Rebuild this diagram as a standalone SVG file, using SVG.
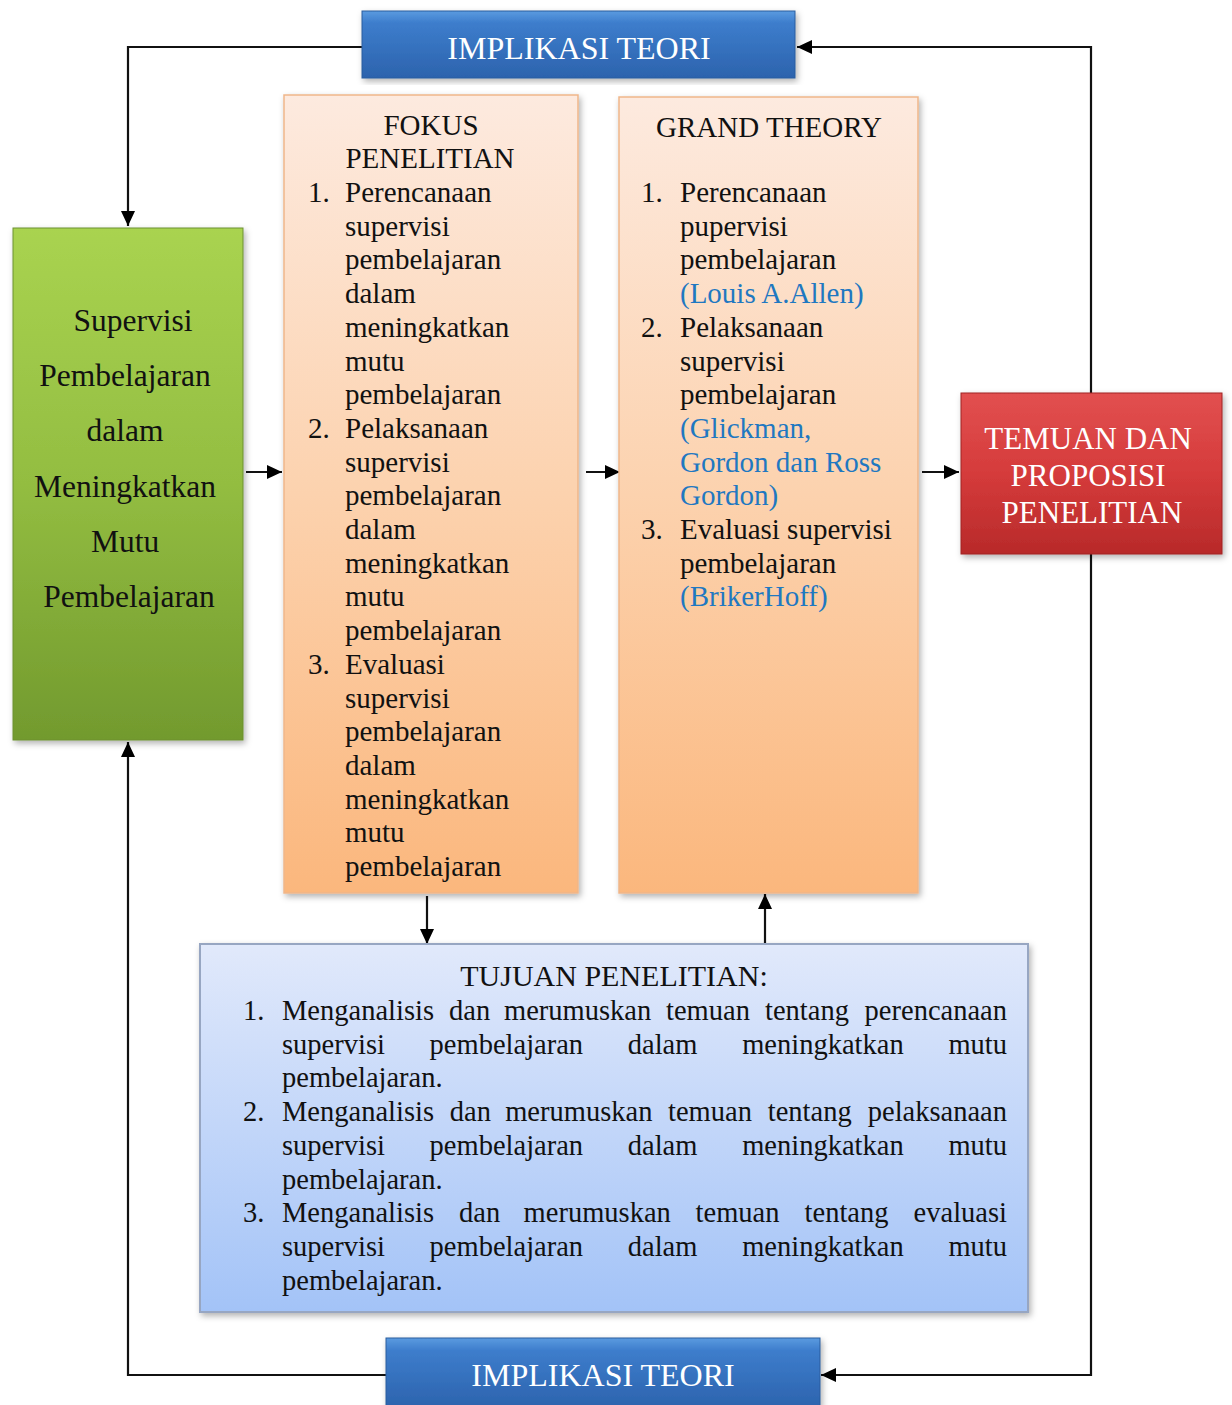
<svg xmlns="http://www.w3.org/2000/svg" width="1232" height="1405" viewBox="0 0 1232 1405">
<defs>
<style>
text{font-family:"Liberation Serif","Times New Roman",serif;fill:#111}
.b{font-size:29px}
.t{font-size:28.5px}
.w{fill:#fff;font-size:32px}
.c{fill:#1f78c1}
.ln{fill:none;stroke:#111;stroke-width:2.2}
</style>
<linearGradient id="gGreen" x1="0" y1="0" x2="0" y2="1">
<stop offset="0" stop-color="#a9d350"/>
<stop offset="0.5" stop-color="#93bd41"/>
<stop offset="1" stop-color="#729a2e"/>
</linearGradient>
<linearGradient id="gOrange" x1="0" y1="0" x2="0" y2="1">
<stop offset="0" stop-color="#fdeadf"/>
<stop offset="0.5" stop-color="#fcd2ae"/>
<stop offset="1" stop-color="#fbb77d"/>
</linearGradient>
<linearGradient id="gLight" x1="0" y1="0" x2="0" y2="1">
<stop offset="0" stop-color="#e1e9fb"/>
<stop offset="1" stop-color="#a3c3f7"/>
</linearGradient>
<linearGradient id="gBlue" x1="0" y1="0" x2="0" y2="1">
<stop offset="0" stop-color="#5b9be0"/>
<stop offset="0.18" stop-color="#3d7dcc"/>
<stop offset="1" stop-color="#2c63ad"/>
</linearGradient>
<linearGradient id="gRed" x1="0" y1="0" x2="0" y2="1">
<stop offset="0" stop-color="#e25050"/>
<stop offset="0.5" stop-color="#d53b3b"/>
<stop offset="1" stop-color="#b82a2a"/>
</linearGradient>
<filter id="sh" x="-10%" y="-10%" width="120%" height="120%">
<feDropShadow dx="2" dy="3" stdDeviation="3" flood-color="#000" flood-opacity="0.3"/>
</filter>
<marker id="ar" markerUnits="userSpaceOnUse" markerWidth="15" markerHeight="14" refX="15" refY="7" orient="auto" viewBox="0 0 15 14">
<path d="M0,0 L15,7 L0,14 z" fill="#000"/>
</marker>
</defs>
<rect width="1232" height="1405" fill="#fff"/>

<g id="connectors">
<path class="ln" d="M362,47 H128 V226" marker-end="url(#ar)"/>
<path class="ln" d="M1091,470 V47 H797" marker-end="url(#ar)"/>
<path class="ln" d="M1091,470 V1375 H821" marker-end="url(#ar)"/>
<path class="ln" d="M386,1375 H128 V742" marker-end="url(#ar)"/>
<path class="ln" d="M246,472 H282" marker-end="url(#ar)"/>
<path class="ln" d="M586,472 H620" marker-end="url(#ar)"/>
<path class="ln" d="M922,472 H959" marker-end="url(#ar)"/>
<path class="ln" d="M427,896 V944" marker-end="url(#ar)"/>
<path class="ln" d="M765,944 V894" marker-end="url(#ar)"/>
</g>

<g id="implikasi-top">
<rect x="362" y="11" width="433" height="67" fill="url(#gBlue)" stroke="#2a5c9e" stroke-width="1" filter="url(#sh)"/>
<text class="w" x="579" y="59" text-anchor="middle">IMPLIKASI TEORI</text>
</g>

<g id="supervisi">
<rect x="13" y="228" width="230" height="512" fill="url(#gGreen)" stroke="#6d9130" stroke-width="1" filter="url(#sh)"/>
<text style="font-size:31.5px" text-anchor="middle">
<tspan x="137" y="331">Supervisi</tspan>
<tspan x="129" y="386">Pembelajaran</tspan>
<tspan x="129" y="441">dalam</tspan>
<tspan x="129" y="497">Meningkatkan</tspan>
<tspan x="129" y="552">Mutu</tspan>
<tspan x="129" y="607">Pembelajaran</tspan>
</text>
</g>

<g id="fokus">
<rect x="284" y="95" width="294" height="798" fill="url(#gOrange)" stroke="#efb68a" stroke-width="1.5" filter="url(#sh)"/>
<text class="b" text-anchor="middle"><tspan x="431" y="135">FOKUS</tspan><tspan x="430" y="168">PENELITIAN</tspan></text>
<text class="b"><tspan x="308" y="202">1.</tspan><tspan x="308" y="437.9">2.</tspan><tspan x="308" y="673.8">3.</tspan></text>
<text class="b">
<tspan x="345" y="202">Perencanaan</tspan>
<tspan x="345" dy="33.7">supervisi</tspan>
<tspan x="345" dy="33.7">pembelajaran</tspan>
<tspan x="345" dy="33.7">dalam</tspan>
<tspan x="345" dy="33.7">meningkatkan</tspan>
<tspan x="345" dy="33.7">mutu</tspan>
<tspan x="345" dy="33.7">pembelajaran</tspan>
<tspan x="345" dy="33.7">Pelaksanaan</tspan>
<tspan x="345" dy="33.7">supervisi</tspan>
<tspan x="345" dy="33.7">pembelajaran</tspan>
<tspan x="345" dy="33.7">dalam</tspan>
<tspan x="345" dy="33.7">meningkatkan</tspan>
<tspan x="345" dy="33.7">mutu</tspan>
<tspan x="345" dy="33.7">pembelajaran</tspan>
<tspan x="345" dy="33.7">Evaluasi</tspan>
<tspan x="345" dy="33.7">supervisi</tspan>
<tspan x="345" dy="33.7">pembelajaran</tspan>
<tspan x="345" dy="33.7">dalam</tspan>
<tspan x="345" dy="33.7">meningkatkan</tspan>
<tspan x="345" dy="33.7">mutu</tspan>
<tspan x="345" dy="33.7">pembelajaran</tspan>
</text>
</g>

<g id="grand-theory">
<rect x="619" y="97" width="299" height="796" fill="url(#gOrange)" stroke="#efb68a" stroke-width="1.5" filter="url(#sh)"/>
<text class="b" x="769" y="137" text-anchor="middle">GRAND THEORY</text>
<text class="b"><tspan x="641" y="202">1.</tspan><tspan x="641" y="336.8">2.</tspan><tspan x="641" y="539">3.</tspan></text>
<text class="b">
<tspan x="680" y="202">Perencanaan</tspan>
<tspan x="680" dy="33.7">pupervisi</tspan>
<tspan x="680" dy="33.7">pembelajaran</tspan>
<tspan x="680" dy="33.7" class="c">(Louis A.Allen)</tspan>
<tspan x="680" dy="33.7">Pelaksanaan</tspan>
<tspan x="680" dy="33.7">supervisi</tspan>
<tspan x="680" dy="33.7">pembelajaran</tspan>
<tspan x="680" dy="33.7" class="c">(Glickman,</tspan>
<tspan x="680" dy="33.7" class="c">Gordon dan Ross</tspan>
<tspan x="680" dy="33.7" class="c">Gordon)</tspan>
<tspan x="680" dy="33.7">Evaluasi supervisi</tspan>
<tspan x="680" dy="33.7">pembelajaran</tspan>
<tspan x="680" dy="33.7" class="c">(BrikerHoff)</tspan>
</text>
</g>

<g id="temuan">
<rect x="961" y="393" width="261" height="161" fill="url(#gRed)" stroke="#a02424" stroke-width="1" filter="url(#sh)"/>
<text class="w" style="font-size:31px" text-anchor="middle">
<tspan x="1092" y="449">TEMUAN DAN</tspan>
<tspan x="1092" y="486">PROPOSISI</tspan>
<tspan x="1092" y="523">PENELITIAN</tspan>
</text>
</g>

<g id="tujuan">
<rect x="200" y="944" width="828" height="368" fill="url(#gLight)" stroke="#97a6c2" stroke-width="2" filter="url(#sh)"/>
<text class="b" style="font-size:30px" x="614" y="986" text-anchor="middle">TUJUAN PENELITIAN:</text>
<text class="t" x="243" y="1020">1.</text>
<text class="t" y="1020"><tspan x="282">Menganalisis</tspan><tspan x="449">dan</tspan><tspan x="504">merumuskan</tspan><tspan x="666">temuan</tspan><tspan x="765">tentang</tspan></text>
<text class="t" x="1007" y="1020" text-anchor="end">perencanaan</text>
<text class="t" y="1053.7"><tspan x="282">supervisi</tspan><tspan x="429.6">pembelajaran</tspan><tspan x="627.8">dalam</tspan><tspan x="742.2">meningkatkan</tspan></text>
<text class="t" x="1007" y="1053.7" text-anchor="end">mutu</text>
<text class="t" x="282" y="1087.4">pembelajaran.</text>

<text class="t" x="243" y="1121.1">2.</text>
<text class="t" y="1121.1"><tspan x="282">Menganalisis</tspan><tspan x="449.8">dan</tspan><tspan x="505.2">merumuskan</tspan><tspan x="668">temuan</tspan><tspan x="767.8">tentang</tspan></text>
<text class="t" x="1007" y="1121.1" text-anchor="end">pelaksanaan</text>
<text class="t" y="1154.8"><tspan x="282">supervisi</tspan><tspan x="429.6">pembelajaran</tspan><tspan x="627.8">dalam</tspan><tspan x="742.2">meningkatkan</tspan></text>
<text class="t" x="1007" y="1154.8" text-anchor="end">mutu</text>
<text class="t" x="282" y="1188.5">pembelajaran.</text>

<text class="t" x="243" y="1222.2">3.</text>
<text class="t" y="1222.2"><tspan x="282">Menganalisis</tspan><tspan x="459">dan</tspan><tspan x="523.6">merumuskan</tspan><tspan x="695.6">temuan</tspan><tspan x="804.6">tentang</tspan></text>
<text class="t" x="1007" y="1222.2" text-anchor="end">evaluasi</text>
<text class="t" y="1255.9"><tspan x="282">supervisi</tspan><tspan x="429.6">pembelajaran</tspan><tspan x="627.8">dalam</tspan><tspan x="742.2">meningkatkan</tspan></text>
<text class="t" x="1007" y="1255.9" text-anchor="end">mutu</text>
<text class="t" x="282" y="1289.6">pembelajaran.</text>
</g>

<g id="implikasi-bottom">
<rect x="386" y="1338" width="434" height="70" fill="url(#gBlue)" stroke="#2a5c9e" stroke-width="1" filter="url(#sh)"/>
<text class="w" x="603" y="1386" text-anchor="middle">IMPLIKASI TEORI</text>
</g>
</svg>
